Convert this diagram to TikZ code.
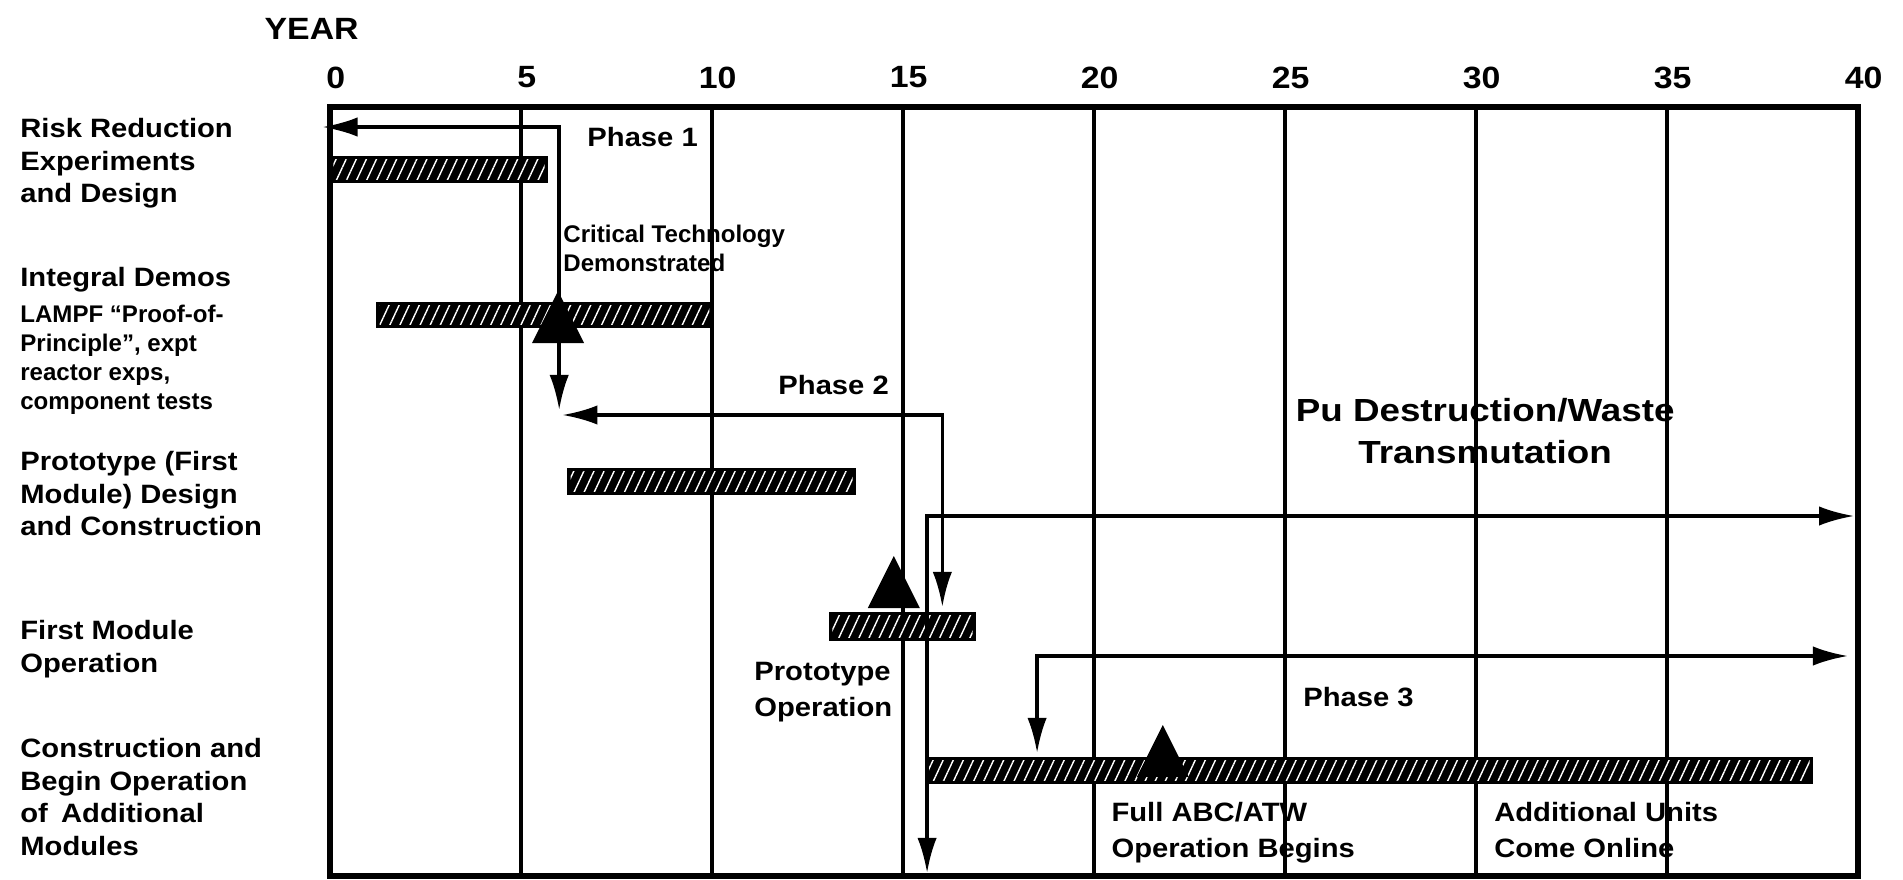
\documentclass[tikz,border=0pt]{standalone}
\usepackage{fontspec}
\setmainfont[FakeStretch=1.1]{Liberation Sans}
\newfontfamily\narrowsans{Liberation Sans Bold}
\newfontfamily\heavysans[FakeStretch=1.15]{Liberation Sans Bold}
\usetikzlibrary{arrows.meta,patterns.meta}

\begin{document}
\begin{tikzpicture}[x=0.764cm, >={Latex[length=20pt,width=11pt]},
  frame/.style={line width=3pt},
  yearline/.style={line width=2.2pt},
  bar/.style={draw=black, line width=4pt, fill=black,
    postaction={pattern={Lines[angle=65,distance=5.2pt,line width=0.8pt]}, pattern color=white}},
  phase/.style={line width=2pt, <->},
  yearnum/.style={inner sep=0pt, font=\bfseries\fontsize{17.5}{20}\selectfont},
  rowlabel/.style={anchor=north west, align=left, inner sep=0pt, font=\bfseries\fontsize{15.1}{18.6}\selectfont},
  chartlabel/.style={anchor=north west, align=left, inner sep=0pt, font=\bfseries\fontsize{15.1}{20.2}\selectfont},
  note/.style={anchor=north west, align=left, inner sep=0pt, font=\narrowsans\fontsize{13.7}{16.5}\selectfont},
  milestone/.pic={\fill (0,0) -- (0.52cm,-1.04cm) -- (-0.52cm,-1.04cm) -- cycle;}]
\useasboundingbox (-8.639,0) rectangle (41.178,-17.6);

% axis
\node[yearnum] (year) at (-0.48,-0.57) {YEAR};
\foreach \yr in {0,5,...,40}
  \node[yearnum] (yr\yr) at (\yr+0.15,-1.55) {\yr};
\foreach \yr in {5,10,...,35}
  \draw[yearline] (\yr,-2.14) -- (\yr,-17.52);
\draw[frame] (0,-2.14) rectangle (40,-17.52);

% activity bars
\draw[bar] (0.09,-3.19) rectangle (5.62,-3.59);
\draw[bar] (1.30,-6.11) rectangle (9.93,-6.49);
\draw[bar] (6.30,-9.43) rectangle (13.68,-9.83);
\draw[bar] (13.15,-12.31) rectangle (16.82,-12.75);
\draw[bar] (15.67,-15.21) rectangle (38.73,-15.61);

% milestones
\pic at (5.97,-5.82) {milestone};
\pic at (14.76,-11.12) {milestone};
\pic at (21.8,-14.5) {milestone};

% phase arrows
\coordinate (ph1a) at (-0.2,-2.54);
\coordinate (ph1b) at (6.0,-2.54);
\coordinate (ph1c) at (6.0,-8.2);
\draw[phase] (ph1a) -- (ph1b) -- (ph1c);
\coordinate (ph2a) at (6.08,-8.3);
\coordinate (ph2b) at (16.03,-8.3);
\coordinate (ph2c) at (16.03,-12.14);
\draw[phase] (ph2a) -- (ph2b) -- (ph2c);
\coordinate (pua) at (15.63,-17.46);
\coordinate (pub) at (15.63,-10.32);
\coordinate (puc) at (39.9,-10.32);
\draw[phase] (pua) -- (pub) -- (puc);
\coordinate (ph3a) at (18.51,-15.06);
\coordinate (ph3b) at (18.51,-13.12);
\coordinate (ph3c) at (39.74,-13.12);
\draw[phase] (ph3a) -- (ph3b) -- (ph3c);

% row labels
\node[rowlabel] (risk) at (-8.115,-2.36) {Risk Reduction\\Experiments\\and Design};
\node[rowlabel] (demos) at (-8.115,-5.34) {Integral Demos};
\node[note] (lampf) at (-8.115,-6.1) {LAMPF “Proof-of-\\Principle”, expt\\reactor exps,\\component tests};
\node[rowlabel] (proto) at (-8.115,-9.02) {Prototype (First\\Module) Design\\and Construction};
\node[rowlabel] (first) at (-8.115,-12.4) {First Module\\Operation};
\node[rowlabel] (constr) at (-8.115,-14.76) {Construction and\\Begin Operation\\of\enspace Additional\\Modules};

% chart labels
\node[chartlabel] (phase1) at (6.73,-2.54) {Phase 1};
\node[note] (crit) at (6.1,-4.5) {Critical Technology\\Demonstrated};
\node[chartlabel] (phase2) at (11.73,-7.5) {Phase 2};
\node[anchor=north, align=center, inner sep=0pt, font=\heavysans\fontsize{18.2}{23.9}\selectfont] (pu) at (30.24,-7.96) {Pu Destruction/Waste\\Transmutation};
\node[chartlabel] (protoop) at (11.1,-13.24) {Prototype\\Operation};
\node[chartlabel] (phase3) at (25.47,-13.74) {Phase 3};
\node[chartlabel] (full) at (20.45,-16.04) {Full ABC/ATW\\Operation Begins};
\node[chartlabel] (units) at (30.47,-16.04) {Additional Units\\Come Online};
\end{tikzpicture}
\end{document}
